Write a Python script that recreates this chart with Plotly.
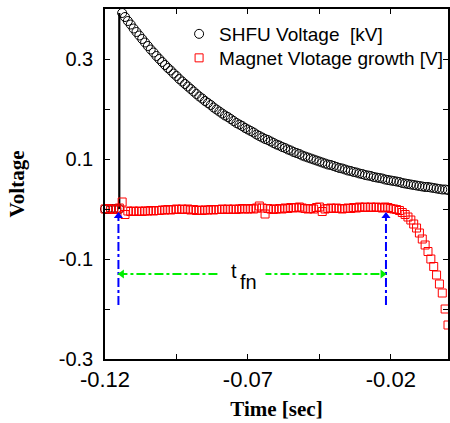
import plotly.graph_objects as go

# ---------------- data ----------------
t_pre = [-0.120, -0.119, -0.118, -0.117, -0.116, -0.115]
shfu_pre = [0.0, 0.0, 0.0, 0.0, 0.0, 0.0]
t_post = [round(-0.114 + 0.001 * k, 3) for k in range(115)]
shfu_post = [
    0.392, 0.384, 0.376, 0.369, 0.361, 0.354, 0.347, 0.340, 0.333, 0.326,
    0.319, 0.313, 0.306, 0.300, 0.294, 0.288, 0.282, 0.277, 0.271, 0.266,
    0.260, 0.255, 0.250, 0.245, 0.240, 0.235, 0.230, 0.225, 0.221, 0.216,
    0.212, 0.208, 0.203, 0.199, 0.195, 0.191, 0.187, 0.184, 0.180, 0.176,
    0.172, 0.169, 0.166, 0.162, 0.159, 0.156, 0.153, 0.149, 0.146, 0.143,
    0.140, 0.138, 0.135, 0.132, 0.129, 0.127, 0.124, 0.122, 0.119, 0.117,
    0.114, 0.112, 0.110, 0.107, 0.105, 0.103, 0.101, 0.099, 0.097, 0.095,
    0.093, 0.091, 0.089, 0.088, 0.086, 0.084, 0.082, 0.081, 0.079, 0.077,
    0.076, 0.074, 0.073, 0.071, 0.070, 0.068, 0.067, 0.066, 0.064, 0.063,
    0.062, 0.061, 0.059, 0.058, 0.057, 0.056, 0.055, 0.054, 0.052, 0.051,
    0.050, 0.049, 0.048, 0.047, 0.046, 0.045, 0.044, 0.044, 0.043, 0.042,
    0.041, 0.040, 0.039, 0.039, 0.038,
]
time = t_pre + t_post
shfu = shfu_pre + shfu_post

magnet = [
    0.000, 0.001, 0.000, -0.001, 0.000, 0.002, 0.014, -0.011, -0.004, -0.005,
    -0.004, -0.005, -0.004, -0.005, -0.004, -0.004, -0.003, -0.004, -0.003, -0.003,
    -0.002, -0.002, -0.001, -0.002, -0.001, 0.000, -0.001, 0.000, -0.001, 0.000,
    -0.002, -0.001, -0.003, -0.002, -0.003, -0.002, -0.002, -0.001, -0.002, -0.001,
    -0.001, 0.000, -0.001, 0.000, -0.001, 0.000, -0.001, 0.000, 0.001, 0.000,
    0.000, 0.001, 0.000, 0.002, 0.006, 0.002, -0.010, 0.001, 0.000, -0.001,
    0.000, 0.001, 0.000, 0.002, 0.001, 0.003, 0.002, 0.003, 0.004, 0.002,
    0.001, 0.000, 0.001, 0.000, 0.003, 0.004, -0.005, 0.000, 0.001, 0.002,
    0.001, 0.002, 0.001, 0.000, 0.001, 0.002, 0.001, 0.003, 0.002, 0.004,
    0.003, 0.004, 0.003, 0.004, 0.003, 0.004, 0.003, 0.002, 0.004, 0.003,
    0.001, 0.000, -0.001, -0.003, -0.007, -0.011, -0.016, -0.022, -0.030, -0.038,
    -0.048, -0.060, -0.072, -0.085, -0.100, -0.115, -0.132, -0.150, -0.168, -0.200,
    -0.232,
]

# t_fn annotation
t_fn_start = -0.1153
t_fn_end = -0.0217
arrow_bottom = -0.192
arrow_top = -0.006
span_level = -0.130

x_tickvals = [-0.12, -0.07, -0.02]
x_ticktext = ["-0.12", "-0.07", "-0.02"]
x_minor = [-0.095, -0.045]
y_tickvals = [0.3, 0.1, -0.1, -0.3]
y_ticktext = ["0.3", "0.1", "-0.1", "-0.3"]
y_minor = [0.2, 0.0, -0.2]

# ---------------- figure ----------------
fig = go.Figure()

fig.add_trace(go.Scatter(
    x=time, y=shfu, mode="markers", name="SHFU Voltage \u00a0[kV]", legend="legend",
    marker=dict(symbol="circle-open", size=9, color="black", line=dict(width=1, color="black")),
    cliponaxis=False,
))
# jump line of the SHFU voltage
fig.add_trace(go.Scatter(
    x=[t_pre[-1], t_pre[-1]], y=[shfu_pre[-1], shfu_post[0]], mode="lines",
    line=dict(color="black", width=2.2), showlegend=False, hoverinfo="skip",
))
fig.add_trace(go.Scatter(
    x=time, y=magnet, mode="markers", name="Magnet Vlotage growth [V]", legend="legend2",
    marker=dict(symbol="square-open", size=8, color="red", line=dict(width=1, color="red")),
    cliponaxis=False,
))

# blue vertical dash-dot arrows
for tx in (t_fn_start, t_fn_end):
    fig.add_trace(go.Scatter(
        x=[tx, tx], y=[arrow_bottom, arrow_top - 0.008], mode="lines",
        line=dict(color="blue", width=2, dash="dashdot"), showlegend=False, hoverinfo="skip",
    ))
    fig.add_trace(go.Scatter(
        x=[tx], y=[arrow_top - 0.008], mode="markers",
        marker=dict(symbol="triangle-up", size=8, color="blue"), showlegend=False, hoverinfo="skip",
    ))

# green horizontal dash-dot double arrow
fig.add_trace(go.Scatter(
    x=[t_fn_start, t_fn_end], y=[span_level, span_level], mode="lines",
    line=dict(color="#00ee00", width=2, dash="dashdot"), showlegend=False, hoverinfo="skip",
))
fig.add_trace(go.Scatter(
    x=[t_fn_start + 0.0012], y=[span_level], mode="markers",
    marker=dict(symbol="triangle-left", size=8, color="#00ee00"), showlegend=False, hoverinfo="skip",
))
fig.add_trace(go.Scatter(
    x=[t_fn_end - 0.0012], y=[span_level], mode="markers",
    marker=dict(symbol="triangle-right", size=8, color="#00ee00"), showlegend=False, hoverinfo="skip",
))

# white gap behind the label, then the label "t" with subscript "fn"
fig.add_annotation(
    x=-0.07189, y=span_level, xref="x", yref="y", text=" ", showarrow=False,
    width=45, height=18, bgcolor="white", borderpad=0,
    font=dict(family="Liberation Sans", size=12),
)
fig.add_annotation(
    x=-0.0750, y=-0.124, xref="x", yref="y", text="t", showarrow=False,
    font=dict(family="Liberation Sans", size=20, color="black"),
)
fig.add_annotation(
    x=-0.0698, y=-0.146, xref="x", yref="y", text="fn", showarrow=False,
    font=dict(family="Liberation Sans", size=20, color="black"),
)

axis_common = dict(
    showline=True, linecolor="black", linewidth=1.5, mirror="ticks",
    ticks="inside", ticklen=5, tickwidth=1, tickcolor="black",
    showgrid=False, zeroline=False, automargin=False,
)

fig.update_xaxes(
    range=[-0.12, 0.0], tickvals=x_tickvals, ticktext=x_ticktext,
    tickfont=dict(family="Liberation Sans", size=22, color="black"),
    minor=dict(tickvals=x_minor, ticks="inside", ticklen=5, tickwidth=1, tickcolor="black"),
    title=dict(text="Time [sec]", font=dict(family="Liberation Serif", size=21, color="black", weight="bold"), standoff=10),
    **axis_common,
)
fig.update_yaxes(
    range=[-0.3, 0.4], tickvals=y_tickvals, ticktext=y_ticktext,
    tickfont=dict(family="Liberation Sans", size=20, color="black"),
    minor=dict(tickvals=y_minor, ticks="inside", ticklen=5, tickwidth=1, tickcolor="black"),
    title=dict(text="Voltage", font=dict(family="Liberation Serif", size=21, color="black", weight="bold"), standoff=28),
    ticklabelstandoff=6,
    **axis_common,
)

legend_common = dict(
    xanchor="left", yanchor="middle",
    font=dict(family="Liberation Sans", size=19, color="black"),
    bgcolor="rgba(0,0,0,0)", borderwidth=0, tracegroupgap=0,
)

fig.update_layout(
    width=450, height=423,
    margin=dict(l=105, r=2, t=9, b=64, autoexpand=False),
    paper_bgcolor="white", plot_bgcolor="white",
    showlegend=True,
    legend=dict(x=0.216, y=1 - (34 - 9) / 350, **legend_common),
    legend2=dict(x=0.216, y=1 - (58 - 9) / 350, **legend_common),
)

fig.write_html("out.html", config={"displayModeBar": False},
               post_script="document.body.style.margin='0';")
